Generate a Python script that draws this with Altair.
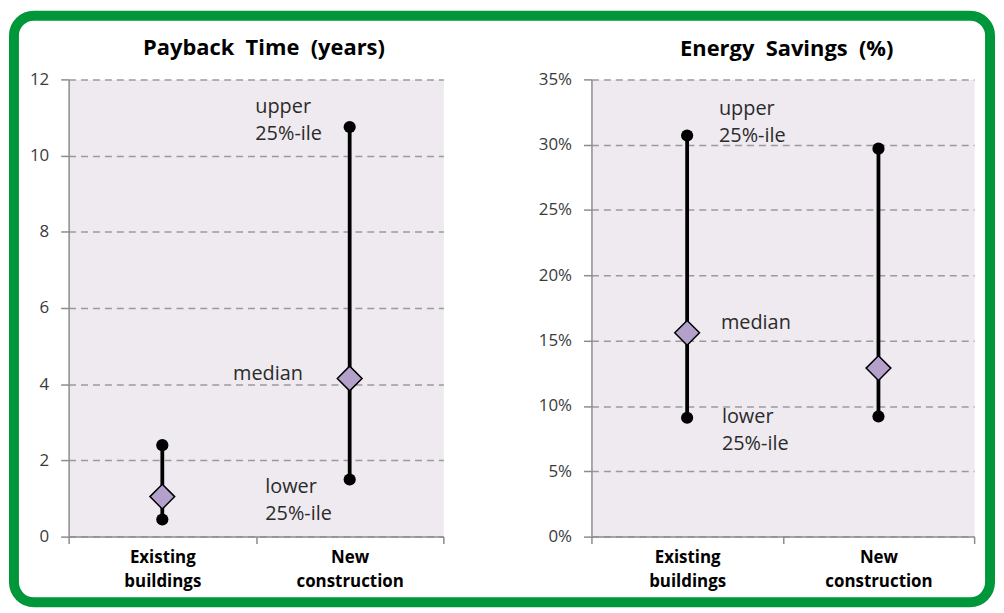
import altair as alt
import pandas as pd

categories = ["Existing buildings", "New construction"]

payback_lower = [0.45, 1.5]
payback_median = [1.05, 4.15]
payback_upper = [2.4, 10.75]

savings_lower = [0.091, 0.092]
savings_median = [0.156, 0.129]
savings_upper = [0.307, 0.297]

payback_ticks = [0, 2, 4, 6, 8, 10, 12]
savings_ticks = [0, 0.05, 0.10, 0.15, 0.20, 0.25, 0.30, 0.35]

payback_title = "Payback\u00a0 Time\u00a0 (years)"
savings_title = "Energy\u00a0 Savings\u00a0 (%)"

annotation_texts = ["upper\n25%-ile", "median", "lower\n25%-ile"]
payback_annotation_category = "New construction"
savings_annotation_category = "Existing buildings"

GREEN = "#00963A"
DIAMOND = "#B3A1CB"
FONT = "Open Sans"


def panel(title, lower, median, upper, ticks, domain, fmt, width, height,
          ann_cat, ann_styles, title_offset, title_dx, border=False):
    df = pd.DataFrame({"category": categories, "lower": lower,
                       "median": median, "upper": upper})
    xenc = alt.X("category:N", sort=categories,
                 scale=alt.Scale(type="band", paddingInner=0, paddingOuter=0),
                 axis=alt.Axis(title=None, labelAngle=0, tickBand="extent",
                               labelExpr="split(datum.label, ' ')"))
    yaxis = alt.Axis(title=None, values=ticks, format=fmt, grid=True)
    yscale = alt.Scale(domain=domain, nice=False, zero=True)

    def Y(field):
        return alt.Y(f"{field}:Q", scale=yscale, axis=yaxis)

    base = alt.Chart(df)
    rule = base.mark_rule(strokeWidth=3.8, color="black").encode(
        x=xenc, y=Y("lower"), y2="upper:Q")
    lo = base.mark_circle(size=150, color="black", opacity=1).encode(
        x=xenc, y=Y("lower"))
    hi = base.mark_circle(size=150, color="black", opacity=1).encode(
        x=xenc, y=Y("upper"))
    med = base.mark_point(shape="diamond", size=620, filled=True, fill=DIAMOND,
                          stroke="black", strokeWidth=1.5, opacity=1).encode(
        x=xenc, y=Y("median"))

    idx = categories.index(ann_cat)
    anchor_vals = [upper[idx], median[idx], lower[idx]]
    layers = []
    if border:
        frame = alt.Chart(pd.DataFrame({"a": [0]})).mark_rect(
            fill="transparent", stroke=GREEN, strokeWidth=10, cornerRadius=20
        ).encode(x=alt.value(-55), x2=alt.value(927),
                 y=alt.value(-64), y2=alt.value(526))
        layers.append(frame)
    layers += [rule, lo, hi, med]
    for txt, val, (dx, dy, align) in zip(annotation_texts, anchor_vals, ann_styles):
        adf = pd.DataFrame({"category": [ann_cat], "value": [val], "label": [txt]})
        t = alt.Chart(adf).mark_text(
            align=align, baseline="middle", dx=dx, dy=dy, font=FONT,
            fontSize=20, color="#2a2a2a", lineBreak="\n", lineHeight=27
        ).encode(x=xenc, y=Y("value"), text="label:N")
        layers.append(t)
    return alt.layer(*layers).properties(
        width=width, height=height,
        title=alt.TitleParams(title, offset=title_offset, dx=title_dx))


left = panel(payback_title, payback_lower, payback_median,
             payback_upper, payback_ticks, [0, 12], "d", 377, 460,
             payback_annotation_category,
             [(-95, -20, "left"), (-47, -4, "right"), (-85, 8, "left")],
             title_offset=-49, title_dx=8, border=True)
right = panel(savings_title, savings_lower, savings_median,
              savings_upper, savings_ticks, [0, 0.35], ".0%", 385, 460,
              savings_annotation_category,
              [(32, -27, "left"), (34, -10, "left"), (35, -1, "left")],
              title_offset=10, title_dx=4)

chart = alt.hconcat(left, right, spacing=149, bounds="flush").properties(
    padding=0
).configure_view(
    fill="#EEEAF0", stroke="transparent"
).configure_axis(
    labelFont=FONT, labelFontSize=17, labelColor="#3a3a3a",
    domainColor="#8c8c8c", domainWidth=1.5,
    tickColor="#8c8c8c", tickWidth=1.5,
    gridColor="#9a9a9a", gridWidth=1.5, gridDash=[7, 5]
).configure_axisX(
    labelFontWeight="bold", labelColor="black", labelLineHeight=24,
    tickSize=7, labelPadding=6, grid=False
).configure_axisY(
    tickSize=8, labelPadding=12
).configure_title(
    font=FONT, fontSize=22, fontWeight="bold", color="black",
    anchor="middle"
)

chart.save("out.html", embed_options={"renderer": "svg", "actions": False})
